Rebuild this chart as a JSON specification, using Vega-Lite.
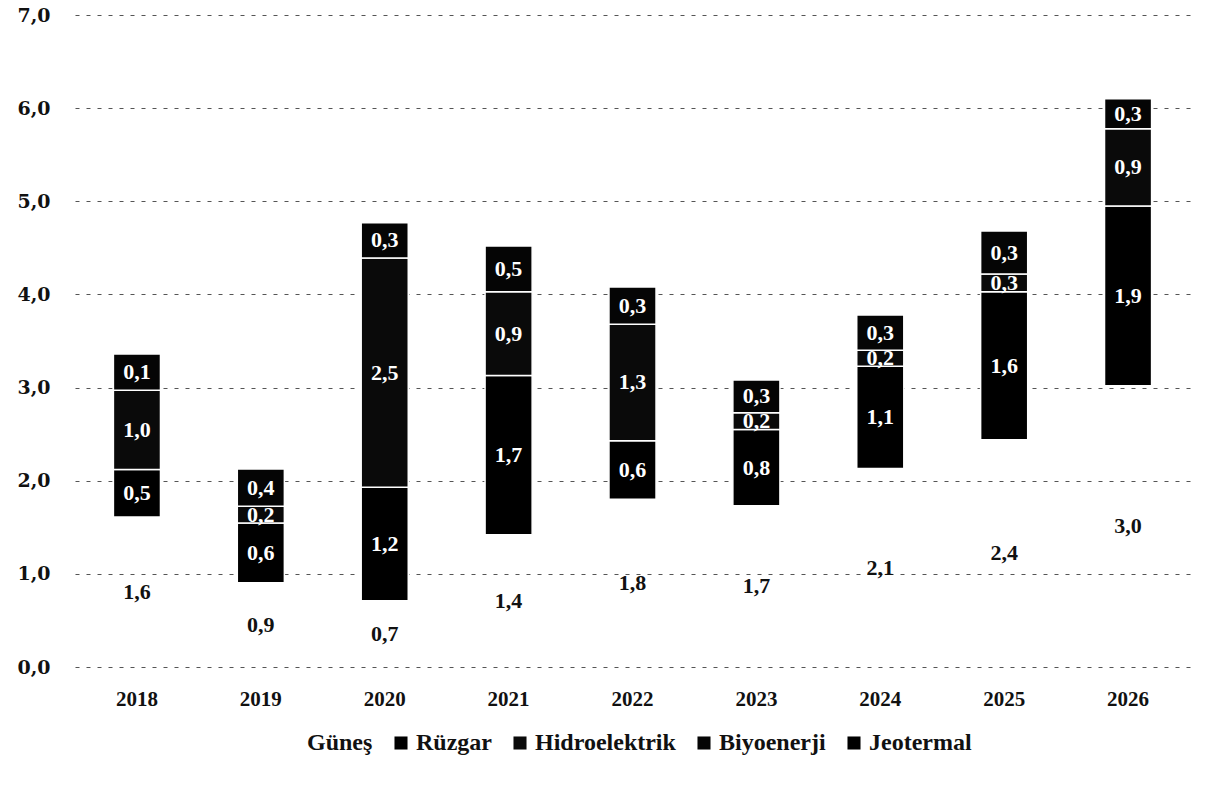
{
  "$schema": "https://vega.github.io/schema/vega-lite/v6.json",
  "width": 1115,
  "height": 652,
  "autosize": "none",
  "padding": {"left": 75, "top": 15, "right": 31, "bottom": 118},
  "background": "white",
  "config": {"view": {"stroke": null}},
  "data": {"values": [
    {"year": "2018", "series": "Güneş", "k": 0, "v": 1.61, "t": "1,6"},
    {"year": "2018", "series": "Rüzgar", "k": 1, "v": 0.51, "t": "0,5"},
    {"year": "2018", "series": "Hidroelektrik", "k": 2, "v": 0.85, "t": "1,0"},
    {"year": "2018", "series": "Biyoenerji", "k": 3, "v": 0.39, "t": "0,1"},
    {"year": "2019", "series": "Güneş", "k": 0, "v": 0.905, "t": "0,9"},
    {"year": "2019", "series": "Rüzgar", "k": 1, "v": 0.64, "t": "0,6"},
    {"year": "2019", "series": "Hidroelektrik", "k": 2, "v": 0.18, "t": "0,2"},
    {"year": "2019", "series": "Biyoenerji", "k": 3, "v": 0.4, "t": "0,4"},
    {"year": "2020", "series": "Güneş", "k": 0, "v": 0.71, "t": "0,7"},
    {"year": "2020", "series": "Rüzgar", "k": 1, "v": 1.22, "t": "1,2"},
    {"year": "2020", "series": "Hidroelektrik", "k": 2, "v": 2.46, "t": "2,5"},
    {"year": "2020", "series": "Biyoenerji", "k": 3, "v": 0.38, "t": "0,3"},
    {"year": "2021", "series": "Güneş", "k": 0, "v": 1.42, "t": "1,4"},
    {"year": "2021", "series": "Rüzgar", "k": 1, "v": 1.71, "t": "1,7"},
    {"year": "2021", "series": "Hidroelektrik", "k": 2, "v": 0.9, "t": "0,9"},
    {"year": "2021", "series": "Biyoenerji", "k": 3, "v": 0.49, "t": "0,5"},
    {"year": "2022", "series": "Güneş", "k": 0, "v": 1.8, "t": "1,8"},
    {"year": "2022", "series": "Rüzgar", "k": 1, "v": 0.63, "t": "0,6"},
    {"year": "2022", "series": "Hidroelektrik", "k": 2, "v": 1.25, "t": "1,3"},
    {"year": "2022", "series": "Biyoenerji", "k": 3, "v": 0.4, "t": "0,3"},
    {"year": "2023", "series": "Güneş", "k": 0, "v": 1.73, "t": "1,7"},
    {"year": "2023", "series": "Rüzgar", "k": 1, "v": 0.82, "t": "0,8"},
    {"year": "2023", "series": "Hidroelektrik", "k": 2, "v": 0.18, "t": "0,2"},
    {"year": "2023", "series": "Biyoenerji", "k": 3, "v": 0.35, "t": "0,3"},
    {"year": "2024", "series": "Güneş", "k": 0, "v": 2.13, "t": "2,1"},
    {"year": "2024", "series": "Rüzgar", "k": 1, "v": 1.1, "t": "1,1"},
    {"year": "2024", "series": "Hidroelektrik", "k": 2, "v": 0.17, "t": "0,2"},
    {"year": "2024", "series": "Biyoenerji", "k": 3, "v": 0.38, "t": "0,3"},
    {"year": "2025", "series": "Güneş", "k": 0, "v": 2.44, "t": "2,4"},
    {"year": "2025", "series": "Rüzgar", "k": 1, "v": 1.59, "t": "1,6"},
    {"year": "2025", "series": "Hidroelektrik", "k": 2, "v": 0.19, "t": "0,3"},
    {"year": "2025", "series": "Biyoenerji", "k": 3, "v": 0.46, "t": "0,3"},
    {"year": "2026", "series": "Güneş", "k": 0, "v": 3.02, "t": "3,0"},
    {"year": "2026", "series": "Rüzgar", "k": 1, "v": 1.93, "t": "1,9"},
    {"year": "2026", "series": "Hidroelektrik", "k": 2, "v": 0.83, "t": "0,9"},
    {"year": "2026", "series": "Biyoenerji", "k": 3, "v": 0.32, "t": "0,3"}
  ]},
  "transform": [
    {"stack": "v", "groupby": ["year"], "sort": [{"field": "k", "order": "ascending"}], "as": ["y0", "y1"]}
  ],
  "encoding": {
    "x": {
      "field": "year", "type": "ordinal",
      "scale": {"paddingInner": 0.62, "paddingOuter": 0.31},
      "axis": {"title": null, "labelAngle": 0, "domain": false, "ticks": false, "labelPadding": 21,
               "labelFont": "Liberation Serif", "labelFontWeight": "bold", "labelFontSize": 21, "labelColor": "#111"}
    }
  },
  "layer": [
    {
      "mark": {"type": "bar", "stroke": "white", "strokeWidth": 1.5},
      "encoding": {
        "y": {
          "field": "y0", "type": "quantitative",
          "scale": {"domain": [0, 7], "nice": false},
          "axis": {"title": null, "values": [0, 1, 2, 3, 4, 5, 6, 7], "domain": false, "ticks": false,
                   "labelExpr": "replace(format(datum.value, '.1f'), '.', ',')",
                   "labelFont": "DejaVu Serif", "labelFontWeight": "bold", "labelFontSize": 19, "labelColor": "#111",
                   "labelPadding": 25, "grid": true, "gridColor": "#555", "gridDash": [4, 7], "gridWidth": 1}
        },
        "y2": {"field": "y1"},
        "strokeOpacity": {"condition": {"test": "datum.series === 'Güneş'", "value": 0}, "value": 1},
        "color": {
          "field": "series", "type": "nominal",
          "scale": {"domain": ["Güneş", "Rüzgar", "Hidroelektrik", "Biyoenerji", "Jeotermal"],
                    "range": ["transparent", "black", "#0a0a0a", "#050505", "black"]},
          "legend": {
            "title": null, "orient": "none", "direction": "horizontal", "legendX": 205, "legendY": 716,
            "symbolType": "square", "symbolSize": 170, "symbolStrokeWidth": 0,
            "labelFont": "Liberation Serif", "labelFontWeight": "bold", "labelFontSize": 24, "labelColor": "#111",
            "columnPadding": 16, "labelOffset": 3,
            "encode": {"symbols": {"update": {
              "fill": [{"test": "datum.value === 'Biyoenerji'", "value": "white"}, {"scale": "color", "field": "value"}],
              "stroke": [{"test": "datum.value === 'Biyoenerji'", "value": "black"}, {"value": "transparent"}],
              "strokeWidth": {"value": 1.5},
              "opacity": {"value": 1}
            }}}
          }
        }
      }
    },
    {
      "transform": [{"calculate": "(datum.y0 + datum.y1) / 2", "as": "mid"}],
      "mark": {"type": "text", "font": "Liberation Serif", "fontWeight": "bold", "fontSize": 22, "baseline": "middle"},
      "encoding": {
        "y": {"field": "mid", "type": "quantitative"},
        "text": {"field": "t"},
        "color": {"condition": {"test": "datum.series === 'Güneş'", "value": "#111"}, "value": "white"}
      }
    }
  ]
}
